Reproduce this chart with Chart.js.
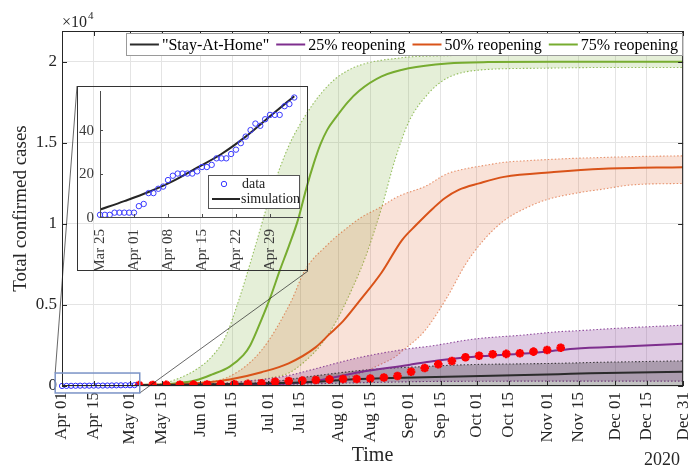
<!DOCTYPE html>
<html>
<head>
<meta charset="utf-8">
<script src="https://cdn.jsdelivr.net/npm/chart.js@4.4.1/dist/chart.umd.min.js"></script>
<style>
  html, body { margin: 0; padding: 0; background: #fff; }
  #wrap { position: relative; width: 690px; height: 469px; }
  #main { position: absolute; left: 0; top: 0; }
  #inset { position: absolute; left: 77px; top: 86px; }
</style>
</head>
<body>
<div id="wrap">
  <canvas id="main" width="690" height="469"></canvas>
  <canvas id="inset" width="231" height="185"></canvas>
</div>
<script>
const SERIF = '"Liberation Serif", "Times New Roman", serif';
const INK = '#262626';

// ---- main axes: days counted from 2020-04-01 ----
const xTickDays   = [0, 14, 30, 44, 61, 75, 91, 105, 122, 136, 153, 167, 183, 197, 214, 228, 244, 258, 274];
const xTickLabels = ['Apr 01', 'Apr 15', 'May 01', 'May 15', 'Jun 01', 'Jun 15', 'Jul 01', 'Jul 15', 'Aug 01',
                     'Aug 15', 'Sep 01', 'Sep 15', 'Oct 01', 'Oct 15', 'Nov 01', 'Nov 15', 'Dec 01', 'Dec 15', 'Dec 31'];
const yTickValues = [0, 5000, 10000, 15000, 20000];

// ---- "Stay-At-Home" scenario ----
const homeBandDays = [34, 60, 88, 110, 131, 145, 160, 175, 204, 219, 233, 274];
const homeLower    = [50, 40, 30, 20, 20, 20, 20, 20, 20, 20, 20, 20];
const homeUpper    = [60, 110, 200, 600, 950, 1100, 1200, 1300, 1370, 1400, 1450, 1550];
const homeMean     = [60, 90, 160, 250, 430, 490, 540, 590, 680, 730, 780, 880];

// ---- 25% reopening ----
const r25Days  = [34, 60, 88, 100, 110, 131, 153, 162, 182, 204, 219, 226, 250, 274];
const r25Lower = [55, 60, 80, 100, 130, 200, 260, 280, 290, 300, 300, 300, 300, 300];
const r25Upper = [60, 100, 400, 650, 1000, 1750, 2300, 2450, 2900, 3150, 3350, 3400, 3600, 3750];
const r25Mean  = [60, 65, 110, 150, 260, 850, 1300, 1500, 1800, 2000, 2200, 2300, 2450, 2600];

// ---- 50% reopening ----
const r50BandDays = [34, 60, 74, 88, 101, 107, 117, 128, 132, 140, 147, 150, 160, 170, 178, 186, 195, 205, 214, 227, 239, 251, 274];
const r50Upper    = [60, 200, 600, 2200, 5200, 7100, 8700, 10000, 10400, 11000, 11600, 11800, 12300, 13100, 13400, 13600,
                     13800, 13900, 13970, 14050, 14100, 14150, 14200];
const r50Lower    = [55, 60, 70, 100, 150, 200, 290, 600, 800, 1300, 1800, 2150, 3400, 5500, 7500, 9000,
                     10200, 11000, 11500, 11900, 12150, 12400, 12500];
const r50MeanDays = [34, 50, 62, 74, 88, 100, 112, 118, 124, 131, 141, 150, 156, 164, 169, 175, 184, 195, 217, 239, 274];
const r50Mean     = [60, 100, 200, 400, 850, 1400, 2400, 3200, 4000, 5200, 7000, 9000, 9900, 11000, 11600, 12100,
                     12500, 12900, 13200, 13400, 13500];

// ---- 75% reopening ----
const r75BandDays = [34, 44, 52, 59, 66, 72, 78, 85, 92, 100, 107, 114, 121, 128, 134, 141, 147, 153, 162, 170, 185, 210, 240, 274];
const r75Upper    = [60, 150, 500, 1000, 1800, 3000, 5300, 8500, 11800, 14800, 16600, 18000, 19000, 19600, 19900, 20100,
                     20200, 20300, 20350, 20380, 20400, 20400, 20400, 20400];
const r75Lower    = [55, 60, 70, 85, 110, 150, 200, 300, 500, 800, 1500, 2500, 4000, 6000, 8000, 11000,
                     14000, 16300, 18100, 19000, 19500, 19600, 19650, 19650];
const r75MeanDays = [34, 44, 52, 59, 66, 74, 80, 83, 88, 92, 96, 100, 104, 108, 111, 114, 117, 121, 126, 131, 141, 153, 170, 188, 220, 274];
const r75Mean     = [60, 100, 180, 350, 700, 1200, 1900, 2500, 4100, 5500, 7100, 8600, 10200, 12300, 13700, 14900,
                     15800, 16600, 17500, 18200, 19100, 19600, 19900, 19980, 20000, 20000];

// ---- reported cases after May 04 ----
const reportDays  = [34, 40, 46, 52, 58, 64, 70, 76, 82, 88, 94, 100, 106, 112, 118, 124, 130, 136, 142, 148,
                     154, 160, 166, 172, 178, 184, 190, 196, 202, 208, 214, 220];
const reportCases = [55, 62, 70, 78, 85, 92, 100, 110, 130, 170, 260, 310, 330, 370, 410, 430, 430, 460, 520, 620,
                     880, 1110, 1340, 1540, 1770, 1870, 1960, 1980, 2020, 2120, 2220, 2360];

// ---- early period (day 0 = Mar 25) ----
const earlyDays  = [0, 1, 2, 3, 4, 5, 6, 7, 8, 9, 10, 11, 12, 13, 14, 15, 16, 17, 18, 19, 20,
                    21, 22, 23, 24, 25, 26, 27, 28, 29, 30, 31, 32, 33, 34, 35, 36, 37, 38, 39, 40];
const earlyCases = [1, 1, 1, 2, 2, 2, 2, 2, 5, 6, 11, 11, 13, 14, 17, 19, 20, 20, 20, 20, 21,
                    23, 23, 24, 27, 27, 27, 29, 31, 34, 37, 40, 43, 42, 45, 47, 47, 47, 51, 52, 55];
const simDays    = [0, 5, 10, 15, 20, 25, 30, 35, 40];
const simCases   = [3.4, 7.3, 11.5, 16.5, 22.7, 29, 37, 46.4, 55.6];
const insetTickDays   = [0, 7, 14, 21, 28, 35];
const insetTickLabels = ['Mar 25', 'Apr 01', 'Apr 08', 'Apr 15', 'Apr 22', 'Apr 29'];
const insetYTicks     = [0, 20, 40];
const MAR25_TO_APR01  = 7;            // shift between the two day counters
const zoomWindow = { x0: -3, x1: 34.3, y0: -430, y1: 800 };

const pts = (xs, ys) => xs.map((x, i) => ({ x, y: ys[i] }));

function band(days, lo, hi, stroke, fillColor) {
  const common = { borderColor: stroke, borderWidth: 1.1, borderDash: [1.5, 2], pointRadius: 0,
                   cubicInterpolationMode: 'monotone', order: 3 };
  return [
    Object.assign({ data: pts(days, lo), fill: false }, common),
    Object.assign({ data: pts(days, hi), fill: '-1', backgroundColor: fillColor }, common)
  ];
}
function meanLine(label, days, vals, color) {
  return { label, data: pts(days, vals), borderColor: color, backgroundColor: color, borderWidth: 2,
           pointRadius: 0, fill: false, cubicInterpolationMode: 'monotone', order: 2 };
}

const C_HOME = '#2b2b2b', C_25 = '#7E2F8E', C_50 = '#D95319', C_75 = '#77AC30';

const mainDatasets = [
  ...band(homeBandDays, homeLower, homeUpper, 'rgba(30,30,30,0.8)', 'rgba(30,30,30,0.27)'),
  ...band(r25Days, r25Lower, r25Upper, 'rgba(126,47,142,0.85)', 'rgba(126,47,142,0.25)'),
  ...band(r50BandDays, r50Lower, r50Upper, 'rgba(217,83,25,0.6)', 'rgba(217,83,25,0.17)'),
  ...band(r75BandDays, r75Lower, r75Upper, 'rgba(119,172,48,0.75)', 'rgba(119,172,48,0.19)'),
  meanLine('"Stay-At-Home"', homeBandDays, homeMean, C_HOME),
  meanLine('25% reopening', r25Days, r25Mean, C_25),
  meanLine('50% reopening', r50MeanDays, r50Mean, C_50),
  meanLine('75% reopening', r75MeanDays, r75Mean, C_75),
  { data: pts(reportDays, reportCases), showLine: false, pointStyle: 'star', pointRadius: 4.3,
    pointBorderWidth: 2.6, borderColor: '#ff0000', backgroundColor: '#ff0000', order: 1 },
  { data: earlyDays.map((d, i) => ({ x: d - MAR25_TO_APR01, y: earlyCases[i] }))
                   .filter(p => p.x >= 0 && p.x % 2 === 0),
    showLine: false, pointStyle: 'circle', pointRadius: 2.6, pointBorderWidth: 1,
    borderColor: '#2a2aff', backgroundColor: 'rgba(0,0,0,0)', order: 0, clip: false }
];

const mainDecor = {
  id: 'mainDecor',
  afterDraw(chart) {
    const { ctx, chartArea: a, scales: { x, y } } = chart;
    ctx.save();
    // axes box
    ctx.strokeStyle = INK; ctx.lineWidth = 1;
    ctx.strokeRect(a.left + 0.5, a.top + 0.5, a.right - a.left - 1, a.bottom - a.top - 1);
    // inward ticks on all four sides
    ctx.beginPath();
    xTickDays.forEach(d => {
      const px = Math.round(x.getPixelForValue(d)) + 0.5;
      ctx.moveTo(px, a.bottom); ctx.lineTo(px, a.bottom - 5);
      ctx.moveTo(px, a.top); ctx.lineTo(px, a.top + 5);
    });
    yTickValues.forEach(v => {
      const py = Math.round(y.getPixelForValue(v)) + 0.5;
      ctx.moveTo(a.left, py); ctx.lineTo(a.left + 5, py);
      ctx.moveTo(a.right, py); ctx.lineTo(a.right - 5, py);
    });
    ctx.stroke();

    // exponent and year labels
    ctx.fillStyle = INK; ctx.textBaseline = 'alphabetic'; ctx.textAlign = 'left';
    ctx.font = `16px ${SERIF}`;
    ctx.fillText('\u00d710', a.left, 27);
    const w10 = ctx.measureText('\u00d710').width;
    ctx.font = `11px ${SERIF}`;
    ctx.fillText('4', a.left + w10 + 1, 19);
    ctx.font = `18px ${SERIF}`;
    ctx.textAlign = 'right';
    ctx.fillText('2020', a.right - 3, 465);

    // zoom window and connectors to the inset
    const zx0 = x.getPixelForValue(zoomWindow.x0), zx1 = x.getPixelForValue(zoomWindow.x1);
    const zy0 = y.getPixelForValue(zoomWindow.y1), zy1 = y.getPixelForValue(zoomWindow.y0);
    const inset = document.getElementById('inset');
    const il = inset.offsetLeft, it = inset.offsetTop, ir = il + inset.width, ib = it + inset.height;
    ctx.strokeStyle = 'rgba(30,30,30,0.85)'; ctx.lineWidth = 0.8;
    ctx.beginPath();
    ctx.moveTo(zx0, zy0); ctx.lineTo(il, it);
    ctx.moveTo(zx1, zy1); ctx.lineTo(ir, ib);
    ctx.stroke();
    ctx.strokeStyle = '#7b93c6'; ctx.lineWidth = 1.5;
    ctx.strokeRect(zx0, zy0, zx1 - zx0, zy1 - zy0);

    // legend
    const items = chart.data.datasets.filter(d => d.label);
    ctx.font = `16px ${SERIF}`;
    const lineLen = 29, gapLT = 3, gapItem = 7, padX = 4, h = 22;
    let w = padX * 2;
    items.forEach((d, i) => { w += lineLen + gapLT + ctx.measureText(d.label).width + (i ? gapItem : 0); });
    const right = a.right - 1, top = a.top + 2, left = right - w;
    ctx.fillStyle = '#fff'; ctx.fillRect(left, top, w, h);
    ctx.strokeStyle = '#9a9a9a'; ctx.lineWidth = 1;
    ctx.strokeRect(Math.round(left) + 0.5, top + 0.5, Math.round(w), h);
    let cx = left + padX;
    const cy = top + h / 2 + 0.5;
    ctx.textAlign = 'left'; ctx.textBaseline = 'middle';
    items.forEach((d, i) => {
      if (i) cx += gapItem;
      ctx.strokeStyle = d.borderColor; ctx.lineWidth = 2;
      ctx.beginPath(); ctx.moveTo(cx, cy); ctx.lineTo(cx + lineLen, cy); ctx.stroke();
      cx += lineLen + gapLT;
      ctx.fillStyle = '#000';
      ctx.fillText(d.label, cx, cy + 1);
      cx += ctx.measureText(d.label).width;
    });
    ctx.restore();
  }
};

new Chart(document.getElementById('main'), {
  type: 'line',
  data: { datasets: mainDatasets },
  options: {
    responsive: false, animation: false, events: [],
    layout: { padding: { top: 31, right: 4, left: 0, bottom: 0 } },
    plugins: { legend: { display: false }, tooltip: { enabled: false } },
    scales: {
      x: {
        type: 'linear', min: 0, max: 274,
        afterBuildTicks: s => { s.ticks = xTickDays.map(v => ({ value: v })); },
        afterFit: s => { s.height = 83; s.paddingLeft = 0; s.paddingRight = 0; },
        ticks: {
          autoSkip: false, minRotation: 90, maxRotation: 90, padding: 6, color: INK,
          font: { family: SERIF, size: 17 },
          callback: v => xTickLabels[xTickDays.indexOf(v)]
        },
        grid: { color: '#e4e4e4', drawTicks: false },
        border: { display: false },
        title: { display: true, text: 'Time', color: INK, font: { family: SERIF, size: 20 }, padding: { bottom: 1 } }
      },
      y: {
        type: 'linear', min: 0, max: 21900,
        afterBuildTicks: s => { s.ticks = yTickValues.map(v => ({ value: v })); },
        afterFit: s => { s.width = 62; s.paddingTop = 0; s.paddingBottom = 0; },
        ticks: { padding: 5, color: INK, font: { family: SERIF, size: 17 }, callback: v => String(v / 10000) },
        grid: { color: '#e4e4e4', drawTicks: false },
        border: { display: false },
        title: { display: true, text: 'Total confirmed cases', color: INK, font: { family: SERIF, size: 19 },
                 padding: { top: 10 } }
      }
    }
  },
  plugins: [mainDecor]
});

// ---- inset: early data and fitted simulation ----
const insetDecor = {
  id: 'insetDecor',
  afterDraw(chart) {
    const { ctx, chartArea: a, scales: { x, y }, width, height } = chart;
    ctx.save();
    ctx.strokeStyle = '#333'; ctx.lineWidth = 1;
    ctx.strokeRect(0.5, 0.5, width - 1, height - 1);
    ctx.strokeStyle = '#4a4a4a';
    ctx.beginPath();
    ctx.moveTo(a.left + 0.5, a.top); ctx.lineTo(a.left + 0.5, a.bottom + 0.5); ctx.lineTo(a.right, a.bottom + 0.5);
    insetTickDays.forEach(d => { const px = Math.round(x.getPixelForValue(d)) + 0.5; ctx.moveTo(px, a.bottom); ctx.lineTo(px, a.bottom - 3); });
    insetYTicks.forEach(v => { const py = Math.round(y.getPixelForValue(v)) + 0.5; ctx.moveTo(a.left, py); ctx.lineTo(a.left + 3, py); });
    ctx.stroke();

    // y tick labels
    ctx.font = `15px ${SERIF}`; ctx.fillStyle = '#3c3c3c';
    ctx.textAlign = 'right'; ctx.textBaseline = 'middle';
    insetYTicks.forEach(v => ctx.fillText(String(v), a.left - 6, y.getPixelForValue(v) + 1));

    // legend
    const bx = 131, by = 89, bw = 91, bh = 33;
    ctx.fillStyle = '#fff'; ctx.fillRect(bx, by, bw, bh);
    ctx.strokeStyle = '#555'; ctx.strokeRect(bx + 0.5, by + 0.5, bw, bh);
    const ds = chart.data.datasets;
    ctx.font = `14px ${SERIF}`; ctx.fillStyle = '#222'; ctx.textBaseline = 'middle'; ctx.textAlign = 'left';
    ctx.strokeStyle = ds[0].borderColor; ctx.lineWidth = 1;
    ctx.beginPath(); ctx.arc(bx + 16, by + 9, 2.7, 0, Math.PI * 2); ctx.stroke();
    ctx.fillText(ds[0].label, bx + 34, by + 9);
    ctx.strokeStyle = ds[1].borderColor; ctx.lineWidth = 2;
    ctx.beginPath(); ctx.moveTo(bx + 4, by + 24); ctx.lineTo(bx + 32, by + 24); ctx.stroke();
    ctx.fillText(ds[1].label, bx + 33, by + 24);
    ctx.restore();
  }
};

new Chart(document.getElementById('inset'), {
  type: 'line',
  data: {
    datasets: [
      { label: 'data', data: pts(earlyDays, earlyCases), showLine: false, pointStyle: 'circle', pointRadius: 2.7,
        pointBorderWidth: 1, borderColor: '#3a3aff', backgroundColor: 'rgba(0,0,0,0)', clip: 4 },
      { label: 'simulation', data: pts(simDays, simCases), borderColor: '#262626', borderWidth: 2, pointRadius: 0,
        cubicInterpolationMode: 'monotone' }
    ]
  },
  options: {
    responsive: false, animation: false, events: [],
    layout: { padding: { top: 1, right: 1, left: 0, bottom: 0 } },
    plugins: { legend: { display: false }, tooltip: { enabled: false } },
    scales: {
      x: {
        type: 'linear', min: 0, max: 41.8,
        afterBuildTicks: s => { s.ticks = insetTickDays.map(v => ({ value: v })); },
        afterFit: s => { s.height = 54; s.paddingLeft = 0; s.paddingRight = 0; },
        ticks: { autoSkip: false, minRotation: 90, maxRotation: 90, padding: 4, color: '#3c3c3c',
                 font: { family: SERIF, size: 15 }, callback: v => insetTickLabels[insetTickDays.indexOf(v)] },
        grid: { display: false }, border: { display: false }
      },
      y: {
        type: 'linear', min: 0, max: 58,
        afterBuildTicks: s => { s.ticks = insetYTicks.map(v => ({ value: v })); },
        afterFit: s => { s.width = 23; s.paddingTop = 0; s.paddingBottom = 0; },
        ticks: { display: false },
        grid: { display: false }, border: { display: false }
      }
    }
  },
  plugins: [insetDecor]
});
</script>
</body>
</html>
